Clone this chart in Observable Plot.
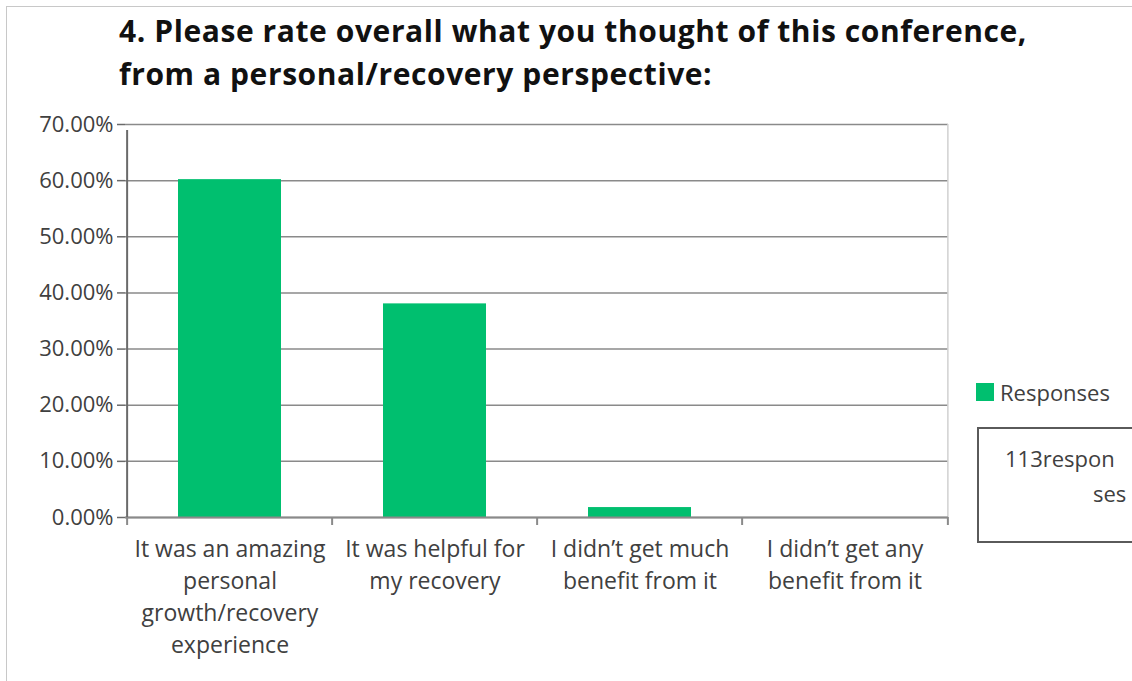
<!DOCTYPE html>
<html>
<head>
<meta charset="utf-8">
<script src="https://cdn.jsdelivr.net/npm/d3@7"></script>
<script src="https://cdn.jsdelivr.net/npm/@observablehq/plot@0.6"></script>
<style>
  html, body { margin: 0; padding: 0; background: #fff; width: 1132px; height: 681px; overflow: hidden; }
  #wrap { position: relative; width: 1132px; height: 681px; overflow: hidden; }
  #border { position: absolute; left: 6px; top: 6px; width: 1200px; height: 800px; border: 1px solid #c8c8c8; }
  #title { position: absolute; left: 119px; top: 9px; font-family: "Open Sans", sans-serif; font-weight: 700; font-size: 30px; line-height: 43px; color: #111; white-space: nowrap; }
  #title span { display: inline-block; }
  #chart { position: absolute; left: 0; top: 105px; }
  .lg { position: absolute; font-family: "Open Sans", sans-serif; font-size: 22px; line-height: 26px; color: #404040; white-space: nowrap; }
  #swatch { position: absolute; left: 976px; top: 383px; width: 18px; height: 18px; background: #00bf6f; }
  #box { position: absolute; left: 977px; top: 427px; width: 220px; height: 112px; border: 2px solid #5a5a5a; }
</style>
</head>
<body>
<div id="wrap">
  <div id="border"></div>
  <div id="title"></div>
  <div id="chart"></div>
  <div id="swatch"></div>
  <div class="lg" id="legendLabel" style="left:1000px; top:379px;"></div>
  <div id="box"></div>
  <div class="lg" id="note1" style="left:1005px; top:445px;"></div>
  <div class="lg" id="note2" style="left:1093px; top:480px;"></div>
</div>
<script>
const titleLines = ["4. Please rate overall what you thought of this conference,", "from a personal/recovery perspective:"];
const categories = [
  "It was an amazing\npersonal\ngrowth/recovery\nexperience",
  "It was helpful for\nmy recovery",
  "I didn’t get much\nbenefit from it",
  "I didn’t get any\nbenefit from it"
];
const responses = [0.6018, 0.3805, 0.0177, 0.0];
const yTicks = [0, 0.1, 0.2, 0.3, 0.4, 0.5, 0.6, 0.7];
const seriesName = "Responses";
const noteLines = ["113respon", "ses"];

const titleEl = document.getElementById("title");
titleLines.forEach((t, i) => {
  const s = document.createElement("span");
  s.textContent = t;
  titleEl.appendChild(s);
  if (i < titleLines.length - 1) titleEl.appendChild(document.createElement("br"));
});
// fit the first title line to the reference's width via letter spacing
const first = titleEl.querySelector("span");
const w0 = first.getBoundingClientRect().width;
const ls = (908 - w0) / titleLines[0].length;
titleEl.style.letterSpacing = ls + "px";

document.getElementById("legendLabel").textContent = seriesName;
document.getElementById("note1").textContent = noteLines[0];
document.getElementById("note2").textContent = noteLines[1];

const data = categories.map((c, i) => ({category: c, value: responses[i]}));

const W = 1132, H = 576, ML = 125, MR = 184, MT = 19, MB = 164;
const step = (W - ML - MR) / categories.length;

const chart = Plot.plot({
  width: W,
  height: H,
  marginLeft: ML,
  marginRight: MR,
  marginTop: MT,
  marginBottom: MB,
  style: {fontFamily: "'Open Sans', sans-serif", fontSize: "22px", color: "#404040", background: "transparent"},
  x: {domain: categories, paddingInner: 0.5, paddingOuter: 0.25, axis: null},
  y: {domain: [0, 0.7], axis: null},
  marks: [
    Plot.gridY(yTicks, {stroke: "#8a8a8a", strokeOpacity: 1, strokeWidth: 1.5}),
    Plot.ruleX([categories[categories.length - 1]], {x: d => d, dx: step / 2, y1: 0, y2: 0.7, stroke: "#d0d0d0", strokeWidth: 1.5}),
    Plot.barY(data, {x: "category", y: "value", fill: "#00bf6f"}),
    Plot.ruleY([0], {stroke: "#8a8a8a", strokeWidth: 2}),
    Plot.ruleX([categories[0]], {x: d => d, dx: -step / 2, y1: 0, y2: 0.7, insetBottom: -6, stroke: "#6a6a6a", strokeWidth: 2}),
    Plot.ruleX(categories, {x: d => d, dx: -step / 2, y1: 0, y2: 0, insetBottom: -8, stroke: "#8a8a8a", strokeWidth: 2}),
    Plot.ruleX([categories[categories.length - 1]], {x: d => d, dx: step / 2, y1: 0, y2: 0, insetBottom: -8, stroke: "#8a8a8a", strokeWidth: 2}),
    Plot.axisY(yTicks, {label: null, tickFormat: d3.format(".2%"), tickSize: 8, tickPadding: 4, stroke: "#6a6a6a", strokeWidth: 1.5, fill: "#404040", fontSize: 22}),
    Plot.axisX({label: null, tickSize: 0, tickPadding: 17, lineHeight: 1.39, fill: "#404040", fontSize: 23})
  ]
});
document.getElementById("chart").appendChild(chart);
</script>
</body>
</html>
